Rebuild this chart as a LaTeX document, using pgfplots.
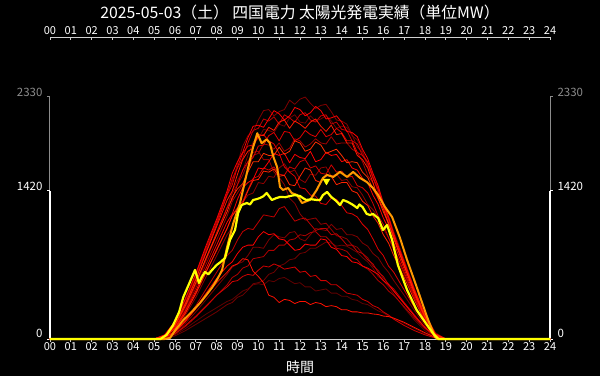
\documentclass[border=0pt]{standalone}
\usepackage{fontspec}
\setmainfont{Noto Sans CJK JP}
\usepackage{pgfplots}
\usepackage{pgfplotstable}
\pgfplotsset{compat=1.18}
\definecolor{axgray}{HTML}{8C8C8C}
\definecolor{axlight}{HTML}{D0D0D0}
\definecolor{today}{HTML}{FFFF00}
\definecolor{yday}{HTML}{FF9900}
\definecolor{c1}{HTML}{FF0000}
\definecolor{c2}{HTML}{800000}
\definecolor{c3}{HTML}{C00000}
\definecolor{c4}{HTML}{FF1A00}
\definecolor{c5}{HTML}{700000}
\definecolor{c6}{HTML}{E00000}
\definecolor{c7}{HTML}{A00000}
\definecolor{c8}{HTML}{FF0000}
\definecolor{c9}{HTML}{D00000}
\definecolor{c10}{HTML}{900000}
\definecolor{c11}{HTML}{FF2400}
\definecolor{c12}{HTML}{E00000}
\definecolor{c13}{HTML}{900000}
\definecolor{c14}{HTML}{C00000}
\definecolor{c15}{HTML}{800000}
\definecolor{c16}{HTML}{FF0000}
\definecolor{c17}{HTML}{B00000}
\definecolor{c18}{HTML}{FF1000}
\definecolor{c19}{HTML}{700000}
\definecolor{c20}{HTML}{D00000}
\definecolor{c21}{HTML}{600000}
\definecolor{c22}{HTML}{FF3000}

\pgfplotstableread{
t L1 L2 L3 L4 L5 L6 L7 L8 L9 L10 L11 L12 L13 L14 L15 L16 L17 L18 L19 L20 L21 L22
0 0 0 0 0 0 0 0 0 0 0 0 0 0 0 0 0 0 0 0 0 0 0
5.0 0 0 0 0 0 0 0 0 0 0 0 0 0 0 0 0 0 0 0 0 0 0
5.5 40 30 35 30 25 30 25 25 20 20 25 30 25 15 15 15 10 15 5 10 10 30
6.0 170 150 160 140 120 130 110 110 100 90 100 140 120 70 60 70 50 70 30 50 40 130
6.5 390 360 380 340 300 320 280 270 250 230 250 340 300 180 150 170 120 170 80 130 100 320
7.0 630 600 620 570 520 540 490 460 430 400 440 580 520 320 260 300 210 290 140 220 170 540
7.5 900 860 880 830 760 780 720 680 640 600 650 840 760 480 380 440 310 420 200 320 240 780
8.0 1150 1120 1130 1080 1010 1020 950 900 860 800 850 1100 1000 640 500 580 420 540 260 420 300 1000
8.5 1420 1400 1390 1330 1260 1260 1180 1120 1060 1000 1060 1380 1260 800 620 700 520 640 330 500 360 1220
8.75 1590 1510 1540 1420 1420 1340 1320 1200 1190 1070 1180 1480 1400 850 690 740 590 700 350 550 380 1360
9.0 1700 1680 1640 1580 1520 1480 1400 1340 1260 1200 1250 1650 1480 950 720 820 620 720 400 560 420 1440
9.25 1790 1850 1730 1720 1610 1620 1480 1450 1320 1310 1300 1780 1570 1030 740 880 680 770 420 600 460 1490
9.5 1930 1950 1880 1800 1760 1700 1620 1500 1430 1380 1420 1850 1700 1060 800 900 700 760 470 620 480 1600
9.75 2040 1990 2000 1830 1890 1740 1760 1530 1540 1400 1520 1860 1790 1050 880 900 770 650 530 610 520 1700
10.0 2050 2100 2020 1960 1920 1850 1780 1640 1560 1500 1530 1940 1800 1120 880 980 780 600 540 660 530 1700
10.25 2030 2190 2110 1950 2010 1860 1870 1630 1640 1490 1610 1960 1720 1190 870 1030 790 540 560 700 520 1780
10.5 2110 2200 2090 2030 2000 1950 1860 1700 1620 1560 1600 1900 1720 1180 950 1000 850 420 620 690 560 1760
10.75 2190 2140 2130 2000 1980 1980 1820 1780 1650 1550 1630 1870 1600 1170 1000 1010 850 400 640 720 550 1760
11.0 2160 2180 2060 2080 2060 1900 1880 1760 1580 1640 1560 1780 1550 1250 980 960 900 350 700 700 580 1840
11.25 2100 2200 2150 2100 2040 1990 1800 1780 1570 1680 1570 1650 1480 1270 970 950 900 380 720 670 590 1770
11.5 2140 2290 2120 2020 2120 1980 1830 1690 1650 1600 1480 1600 1350 1200 1020 900 950 370 760 680 560 1800
11.75 2220 2250 2080 2090 2150 1900 1920 1770 1630 1620 1470 1560 1300 1130 1030 850 960 340 770 690 530 1900
12.0 2200 2300 2150 2060 2080 1930 1900 1740 1700 1530 1560 1450 1200 1150 960 860 1000 360 820 640 540 1880
12.25 2140 2320 2170 2020 2070 2000 1840 1730 1720 1500 1640 1440 1140 1160 940 910 990 360 830 650 500 1800
12.5 2170 2260 2100 2080 2140 1960 1870 1800 1640 1580 1620 1380 1150 1100 1000 900 1020 330 870 600 500 1820
12.75 2230 2210 2080 2110 2090 1940 1920 1700 1660 1570 1520 1370 1160 1040 1060 900 1030 350 870 610 460 1890
13.0 2190 2240 2140 2040 2110 2010 1880 1720 1590 1640 1500 1300 1100 1060 1050 960 980 340 900 560 470 1860
13.25 2110 2250 2150 1990 2140 1940 1870 1790 1580 1650 1570 1290 1110 1060 1040 950 980 310 930 560 480 1780
13.5 2120 2180 2060 2050 2090 1960 1940 1760 1670 1560 1560 1350 1050 1000 1100 880 930 320 920 520 440 1800
13.75 2140 2100 2080 1960 2020 2020 1870 1770 1600 1580 1480 1340 990 1010 1050 860 870 310 890 520 440 1820
14.0 2080 2090 2010 1970 2040 1980 1880 1700 1610 1520 1500 1280 980 960 1060 800 860 280 900 480 410 1760
14.25 1990 2060 2000 1880 2030 1900 1880 1720 1550 1530 1500 1210 960 900 1000 790 840 280 890 440 410 1690
14.5 1980 1960 1900 1880 1950 1900 1820 1640 1560 1460 1420 1200 900 900 1000 740 780 260 860 430 380 1700
14.75 1940 1840 1870 1760 1910 1790 1790 1620 1470 1450 1400 1170 880 840 980 730 760 260 830 420 370 1690
15.0 1820 1790 1760 1720 1800 1760 1700 1540 1450 1380 1320 1100 820 820 920 700 700 250 780 380 340 1600
15.25 1730 1650 1690 1640 1670 1700 1570 1500 1400 1290 1280 1050 780 760 890 680 670 250 740 360 330 1550
15.5 1590 1560 1540 1500 1580 1550 1500 1380 1300 1240 1180 960 700 720 820 650 620 240 680 320 300 1440
15.75 1470 1400 1430 1350 1460 1440 1350 1290 1180 1170 1110 860 660 640 780 620 560 235 600 300 270 1350
16.0 1300 1290 1270 1250 1310 1280 1250 1160 1100 1060 1000 800 580 600 700 560 520 220 560 260 250 1220
16.25 1170 1130 1150 1100 1180 1160 1100 1060 970 970 920 700 530 520 640 520 460 215 500 230 220 1110
16.5 1010 1000 990 980 1030 1000 980 920 870 850 800 640 460 480 560 460 420 200 430 190 200 960
17.0 740 730 720 710 760 730 700 670 640 620 590 470 340 350 420 340 310 160 300 130 150 700
17.5 470 460 450 450 480 460 440 420 400 390 370 300 220 230 270 220 200 110 180 80 100 440
18.0 230 220 220 210 240 230 210 200 190 180 170 150 110 110 130 110 100 60 80 40 50 210
18.5 50 50 45 40 60 50 45 40 40 35 35 30 25 25 30 25 20 15 15 10 10 40
19.0 0 0 0 0 0 0 0 0 0 0 0 0 0 0 0 0 0 0 0 0 0 0
24 0 0 0 0 0 0 0 0 0 0 0 0 0 0 0 0 0 0 0 0 0 0
}\reds

\begin{document}
\begin{tikzpicture}[x=1pt,y=1pt]
\fill[black] (0,0) rectangle (600,376);
\useasboundingbox (0,0) rectangle (600,376);
% top hour axis
\begin{axis}[at={(50pt,37pt)},anchor=south west,scale only axis,width=500pt,height=302pt,
  xmin=0,xmax=24,ymin=0,ymax=1,
  axis x line*=top, axis y line=none, axis line style={axlight,-,line width=1pt},
  xtick={0,...,24},
  xticklabels={00,01,02,03,04,05,06,07,08,09,10,11,12,13,14,15,16,17,18,19,20,21,22,23,24},
  tick style={axlight,line width=0.8pt}, major tick length=2.5pt, tick align=inside,
  xticklabel style={text=white,font=\fontsize{11}{12}\selectfont,inner sep=1pt,yshift=1pt},
  /pgf/number format/assume math mode=true]
\addplot[draw=none] coordinates {(0,0)};
\end{axis}
% main axis
\begin{axis}[at={(50pt,37pt)},anchor=south west,scale only axis,width=500pt,height=243pt,
  xmin=0,xmax=24,ymin=0,ymax=2330, clip=false,
  axis x line*=bottom, axis y line=none, axis line style={axlight,-,line width=1pt},
  xtick={0,...,24},
  xticklabels={00,01,02,03,04,05,06,07,08,09,10,11,12,13,14,15,16,17,18,19,20,21,22,23,24},
  tick style={axlight,line width=0.8pt}, major tick length=2.5pt, tick align=outside,
  xticklabel style={text=white,font=\fontsize{11}{12}\selectfont,inner sep=1pt},
  /pgf/number format/assume math mode=true,
  every axis plot/.append style={line join=round}]
% y axes
\draw[axgray,line width=1pt] (axis cs:0,1420) -- (axis cs:0,2330) -- ++(-3pt,0);
\draw[white,line width=1.8pt] (axis cs:0,0) -- (axis cs:0,1420);
\draw[white,line width=1pt] (axis cs:0,1420) -- ++(-3pt,0);
\draw[white,line width=1pt] (axis cs:0,0) -- ++(-3pt,0);
\draw[axgray,line width=1pt] (axis cs:24,1420) -- (axis cs:24,2330) -- ++(3pt,0);
\draw[white,line width=1.8pt] (axis cs:24,0) -- (axis cs:24,1420);
\draw[white,line width=1pt] (axis cs:24,1420) -- ++(3pt,0);
\draw[white,line width=1pt] (axis cs:24,0) -- ++(3pt,0);
\node[anchor=base east,text=axgray,font=\fontsize{11.5}{12}\selectfont] at ([xshift=-4pt]axis cs:0,2330) {2330};
\node[anchor=base east,text=white,font=\fontsize{11.5}{12}\selectfont] at ([xshift=-4pt]axis cs:0,1420) {1420};
\node[anchor=base east,text=white,font=\fontsize{11.5}{12}\selectfont] at ([xshift=-4pt,yshift=2pt]axis cs:0,0) {0};
\node[anchor=base west,text=axgray,font=\fontsize{11.5}{12}\selectfont] at ([xshift=4pt]axis cs:24,2330) {2330};
\node[anchor=base west,text=white,font=\fontsize{11.5}{12}\selectfont] at ([xshift=4pt]axis cs:24,1420) {1420};
\node[anchor=base west,text=white,font=\fontsize{11.5}{12}\selectfont] at ([xshift=4pt,yshift=2pt]axis cs:24,0) {0};
% past days
\addplot[c21,line width=0.8pt] table[x=t,y=L21]{\reds};
\addplot[c19,line width=0.8pt] table[x=t,y=L19]{\reds};
\addplot[c5,line width=0.8pt] table[x=t,y=L5]{\reds};
\addplot[c2,line width=0.8pt] table[x=t,y=L2]{\reds};
\addplot[c15,line width=0.8pt] table[x=t,y=L15]{\reds};
\addplot[c10,line width=0.8pt] table[x=t,y=L10]{\reds};
\addplot[c13,line width=0.8pt] table[x=t,y=L13]{\reds};
\addplot[c7,line width=0.8pt] table[x=t,y=L7]{\reds};
\addplot[c17,line width=0.8pt] table[x=t,y=L17]{\reds};
\addplot[c3,line width=0.8pt] table[x=t,y=L3]{\reds};
\addplot[c14,line width=0.8pt] table[x=t,y=L14]{\reds};
\addplot[c9,line width=0.8pt] table[x=t,y=L9]{\reds};
\addplot[c20,line width=0.8pt] table[x=t,y=L20]{\reds};
\addplot[c6,line width=0.8pt] table[x=t,y=L6]{\reds};
\addplot[c12,line width=0.8pt] table[x=t,y=L12]{\reds};
\addplot[c1,line width=0.8pt] table[x=t,y=L1]{\reds};
\addplot[c8,line width=0.8pt] table[x=t,y=L8]{\reds};
\addplot[c16,line width=0.8pt] table[x=t,y=L16]{\reds};
\addplot[c4,line width=0.8pt] table[x=t,y=L4]{\reds};
\addplot[c11,line width=0.8pt] table[x=t,y=L11]{\reds};
\addplot[c18,line width=0.8pt] table[x=t,y=L18]{\reds};
\addplot[c22,line width=0.8pt] table[x=t,y=L22]{\reds};
% previous day (orange)
\addplot[yday,line width=2pt] coordinates {(0,0)(5.5,0)(5.76,10)(6.0,80)(6.4,182)(6.8,260)(7.2,345)(7.5,420)(7.8,499)(8.05,580)(8.26,662)(8.5,882)(8.8,1112)(9.12,1304)(9.45,1592)(9.75,1841)(9.95,1973)(10.16,1877)(10.4,1915)(10.55,1880)(10.72,1748)(10.9,1650)(11.04,1458)(11.18,1429)(11.43,1448)(11.6,1400)(11.86,1381)(12.1,1304)(12.3,1320)(12.48,1333)(12.8,1429)(13.1,1544)(13.3,1573)(13.6,1554)(13.92,1602)(14.26,1554)(14.55,1602)(14.88,1544)(15.2,1506)(15.5,1448)(15.75,1381)(16.08,1266)(16.42,1170)(16.8,969)(17.14,758)(17.6,499)(18.1,211)(18.48,19)(18.6,0)(24,0)};
% today (yellow)
\addplot[today,line width=2.2pt] coordinates {(0,0)(5.3,0)(5.6,40)(5.9,130)(6.2,260)(6.4,403)(6.7,540)(6.96,662)(7.15,537)(7.3,600)(7.44,643)(7.6,620)(7.78,662)(8.0,710)(8.2,740)(8.4,777)(8.64,950)(8.88,1045)(9.03,1208)(9.2,1285)(9.45,1304)(9.6,1290)(9.75,1333)(9.9,1340)(10.08,1352)(10.25,1370)(10.4,1400)(10.65,1333)(10.85,1350)(11.04,1362)(11.3,1360)(11.52,1371)(11.75,1380)(12.0,1371)(12.15,1350)(12.3,1333)(12.55,1340)(12.8,1333)(12.96,1333)(13.1,1380)(13.3,1410)(13.5,1362)(13.7,1330)(13.92,1285)(14.07,1333)(14.3,1314)(14.55,1285)(14.75,1256)(14.85,1290)(15.0,1266)(15.2,1200)(15.36,1189)(15.5,1200)(15.75,1160)(15.98,1045)(16.18,1093)(16.42,950)(16.7,710)(16.9,600)(17.14,470)(17.6,278)(18.1,134)(18.4,50)(18.65,0)(24,0)};
\addplot[only marks,mark=triangle*,mark size=4pt,mark options={rotate=180,fill=today,draw=today}] coordinates {(13.27,1515)};
\end{axis}
\node[text=white,font=\fontsize{15.8}{18}\selectfont] at (300,363.5) {2025-05-03（土） 四国電力 太陽光発電実績（単位MW）};
\node[text=white,font=\fontsize{14}{16}\selectfont] at (300,9) {時間};
\end{tikzpicture}
\end{document}
